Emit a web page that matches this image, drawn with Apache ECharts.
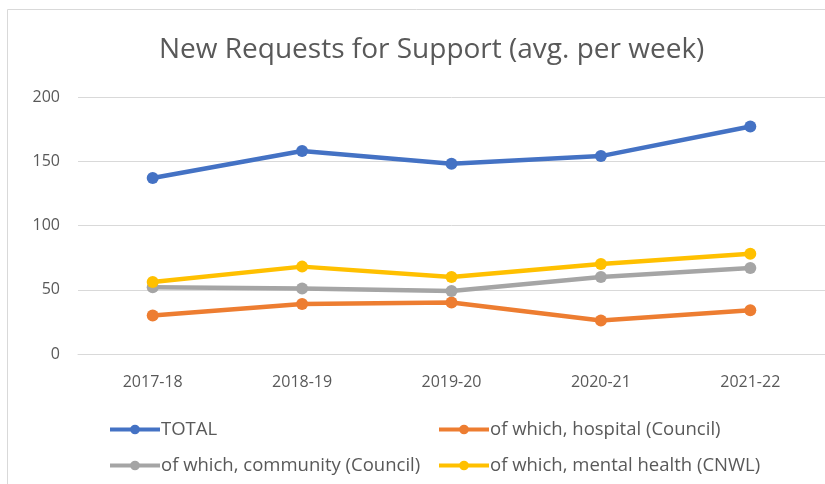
<!DOCTYPE html>
<html>
<head>
<meta charset="utf-8">
<script src="https://cdn.jsdelivr.net/npm/echarts@6/dist/echarts.min.js"></script>
<style>
  html, body { margin: 0; padding: 0; background: #fff; }
  #main { width: 825px; height: 484px; }
</style>
</head>
<body>
<div id="main"></div>
<script>
// years on the x axis
var years = ['2017-18', '2018-19', '2019-20', '2020-21', '2021-22'];

// series values
var total = [137, 158, 148, 154, 177];
var hospital = [30, 39, 40, 26, 34];
var community = [52, 51, 49, 60, 67];
var mentalHealth = [56, 68, 60, 70, 78];

var names = ['TOTAL', 'of which, hospital (Council)', 'of which, community (Council)', 'of which, mental health (CNWL)'];
var colors = ['#4472C4', '#ED7D31', '#A5A5A5', '#FFC000'];

var font = 'Open Sans';
var txt = '#595959';

var myChart = echarts.init(document.getElementById('main'));

function lineSeries(name, values, color) {
  return {
    name: name,
    type: 'line',
    data: values,
    symbol: 'circle',
    symbolSize: 12,
    lineStyle: { width: 4.5, color: color },
    itemStyle: { color: color },
    emphasis: { disabled: true }
  };
}

function legendAt(name, left, top) {
  return {
    data: [name],
    left: left,
    top: top,
    itemWidth: 50,
    itemHeight: 12,
    itemGap: 0,
    padding: 0,
    lineStyle: { width: 4 },
    textStyle: { color: txt, fontSize: 18.5, fontFamily: font, padding: [0, 0, 0, -4] }
  };
}

var option = {
  animation: false,
  color: colors,
  title: {
    text: 'New Requests for Support (avg. per week)',
    left: 154,
    top: 31,
    textStyle: { color: txt, fontSize: 28, fontWeight: 'normal', fontFamily: font }
  },
  legend: [
    legendAt(names[0], 108, 420),
    legendAt(names[1], 437, 420),
    legendAt(names[2], 108, 456),
    legendAt(names[3], 437, 456)
  ],
  grid: { left: 78, right: 0, top: 97, bottom: 130, containLabel: false },
  xAxis: {
    type: 'category',
    data: years,
    boundaryGap: true,
    axisLine: { show: true, lineStyle: { color: '#d9d9d9' } },
    axisTick: { show: false },
    axisLabel: { color: txt, fontSize: 16, fontFamily: font, margin: 20 }
  },
  yAxis: {
    type: 'value',
    min: 0,
    max: 200,
    interval: 50,
    axisLine: { show: false },
    axisTick: { show: false },
    splitLine: { lineStyle: { color: '#d9d9d9' } },
    axisLabel: { color: txt, fontSize: 16, fontFamily: font, margin: 18 }
  },
  graphic: [{
    type: 'rect',
    shape: { x: 7.5, y: 9.5, width: 840, height: 500 },
    style: { fill: 'none', stroke: '#d9d9d9', lineWidth: 1 },
    silent: true
  }],
  series: [
    lineSeries(names[0], total, colors[0]),
    lineSeries(names[1], hospital, colors[1]),
    lineSeries(names[2], community, colors[2]),
    lineSeries(names[3], mentalHealth, colors[3])
  ]
};

myChart.setOption(option);
</script>
</body>
</html>
